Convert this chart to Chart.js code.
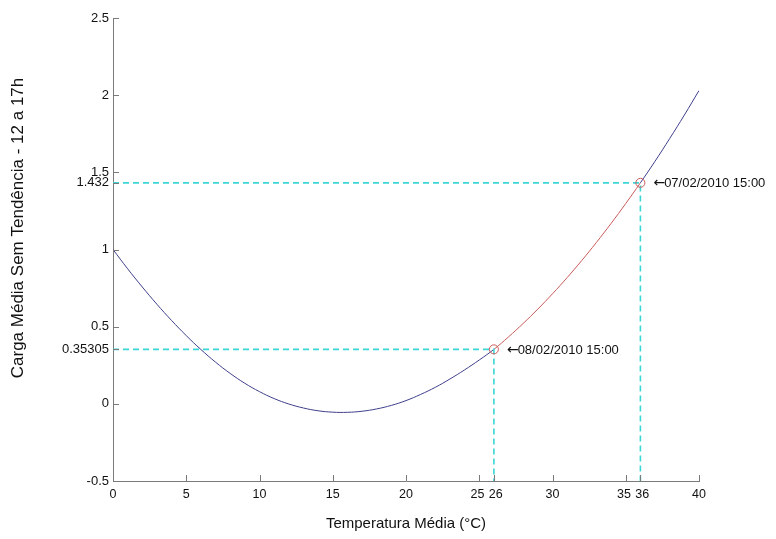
<!DOCTYPE html>
<html>
<head>
<meta charset="utf-8">
<script src="https://cdn.jsdelivr.net/npm/chart.js@4.4.1/dist/chart.umd.min.js"></script>
<style>
  body { margin: 0; background: #fff; }
  #chart { display: block; }
</style>
</head>
<body>
<canvas id="chart" width="776" height="539"></canvas>
<script>
// curve, one value per degree
var temps = [0, 1, 2, 3, 4, 5, 6, 7, 8, 9, 10, 11, 12, 13, 14, 15, 16, 17, 18, 19, 20,
    21, 22, 23, 24, 25, 26, 27, 28, 29, 30, 31, 32, 33, 34, 35, 36, 37, 38, 39, 40];
var carga = [1.000, 0.875, 0.757, 0.645, 0.540, 0.442, 0.352, 0.270, 0.197, 0.133, 0.079,
    0.034, -0.001, -0.027, -0.045, -0.054, -0.055, -0.048, -0.033, -0.010, 0.021,
    0.061, 0.107, 0.161, 0.220, 0.284, 0.35305, 0.434, 0.521, 0.614, 0.713,
    0.818, 0.929, 1.046, 1.169, 1.298, 1.432, 1.572, 1.719, 1.871, 2.030];

var xTickVals = [0, 5, 10, 15, 20, 25, 26, 30, 35, 36, 40];
var yTickVals = [-0.5, 0, 0.35305, 0.5, 1, 1.432, 1.5, 2, 2.5];

var markTemps = [26, 36];
var markCarga = [0.35305, 1.432];
var markLabels = ["08/02/2010 15:00", "07/02/2010 15:00"];

var xTitle = "Temperatura Média (°C)";
var yTitle = "Carga Média Sem Tendência - 12 a 17h";

var xMin = 0, xMax = 40, yMin = -0.5, yMax = 2.5;

var blue = "#3f3f8c";
var red = "#c85a5a";
var cyan = "#3cd6d6";
var axisGray = "#7a7a7a";
var fontFam = "'Liberation Sans', Arial, sans-serif";

var curvePts = temps.map(function(t, i) { return { x: t, y: carga[i] }; });

var datasets = [{
    label: "curva",
    data: curvePts,
    borderColor: blue,
    borderWidth: 1,
    pointRadius: 0,
    tension: 0.4,
    order: 3,
    segment: {
        borderColor: function(c) {
            return (c.p0.parsed.x >= markTemps[0] && c.p1.parsed.x <= markTemps[1]) ? red : blue;
        }
    }
}];

// dashed guide lines from the axes to each marked point
markTemps.forEach(function(t, i) {
    datasets.push({
        label: "guia" + i,
        data: [{ x: xMin, y: markCarga[i] }, { x: t, y: markCarga[i] }, { x: t, y: yMin }],
        borderColor: cyan,
        borderWidth: 1.6,
        borderDash: [6, 4],
        pointRadius: 0,
        tension: 0,
        order: 2
    });
});

datasets.push({
    label: "pontos",
    data: markTemps.map(function(t, i) { return { x: t, y: markCarga[i] }; }),
    showLine: false,
    pointRadius: 4.5,
    pointBorderWidth: 1,
    pointBorderColor: red,
    pointBackgroundColor: "rgba(0,0,0,0)",
    order: 1
});

// inward tick marks, y title and point labels
var extras = {
    id: "extras",
    afterDraw: function(chart) {
        var c = chart.ctx;
        var xs = chart.scales.x, ys = chart.scales.y;
        var area = chart.chartArea;
        c.save();
        c.strokeStyle = axisGray;
        c.lineWidth = 1;
        c.beginPath();
        xTickVals.forEach(function(v) {
            var px = Math.round(xs.getPixelForValue(v)) + 0.5;
            c.moveTo(px, area.bottom);
            c.lineTo(px, area.bottom - 6);
        });
        yTickVals.forEach(function(v) {
            var py = Math.round(ys.getPixelForValue(v)) + 0.5;
            c.moveTo(area.left, py);
            c.lineTo(area.left + 6, py);
        });
        c.stroke();

        c.fillStyle = "#111";
        c.textBaseline = "middle";
        c.textAlign = "left";
        markTemps.forEach(function(t, i) {
            var px = xs.getPixelForValue(t);
            var py = ys.getPixelForValue(markCarga[i]);
            c.font = "14px 'DejaVu Sans', sans-serif";
            c.fillText("\u2190", px + 13, py + 1);
            var aw = c.measureText("\u2190").width;
            c.font = "13px " + fontFam;
            c.fillText(markLabels[i], px + 13 + aw - 1, py + 1);
        });

        // y title sits a bit above the axis middle in the original
        c.translate(18, 228);
        c.rotate(-Math.PI / 2);
        c.textAlign = "center";
        c.font = "17px " + fontFam;
        c.fillText(yTitle, 0, 0);
        c.restore();
    }
};

new Chart(document.getElementById("chart"), {
    type: "line",
    data: { datasets: datasets },
    options: {
        responsive: false,
        animation: false,
        layout: { padding: { top: 18, right: 77, left: 0, bottom: 0 } },
        plugins: {
            legend: { display: false },
            tooltip: { enabled: false }
        },
        scales: {
            x: {
                type: "linear",
                min: xMin,
                max: xMax,
                afterBuildTicks: function(s) {
                    s.ticks = xTickVals.map(function(v) { return { value: v }; });
                },
                afterFit: function(s) { s.height = 58; },
                grid: { display: false, drawTicks: false, tickLength: 0 },
                border: { display: true, color: axisGray, width: 1 },
                ticks: {
                    autoSkip: false,
                    maxRotation: 0,
                    padding: 6,
                    color: "#111",
                    font: { family: fontFam, size: 12.5 },
                    // nudge neighbouring labels (25/26, 35/36) apart a little
                    callback: function(v) {
                        var s = String(v);
                        if (xTickVals.indexOf(v + 1) >= 0) s = s + " ";
                        if (xTickVals.indexOf(v - 1) >= 0) s = " " + s;
                        return s;
                    }
                },
                title: {
                    display: true,
                    text: xTitle,
                    color: "#111",
                    font: { family: fontFam, size: 15 },
                    padding: { top: 0, bottom: 6 }
                }
            },
            y: {
                type: "linear",
                min: yMin,
                max: yMax,
                afterBuildTicks: function(s) {
                    s.ticks = yTickVals.map(function(v) { return { value: v }; });
                },
                afterFit: function(s) { s.width = 113; },
                grid: { display: false, drawTicks: false, tickLength: 0 },
                border: { display: true, color: axisGray, width: 1 },
                ticks: {
                    autoSkip: false,
                    padding: 4,
                    color: "#111",
                    font: { family: fontFam, size: 13 },
                    callback: function(v) { return String(v); }
                }
            }
        }
    },
    plugins: [extras]
});
</script>
</body>
</html>
